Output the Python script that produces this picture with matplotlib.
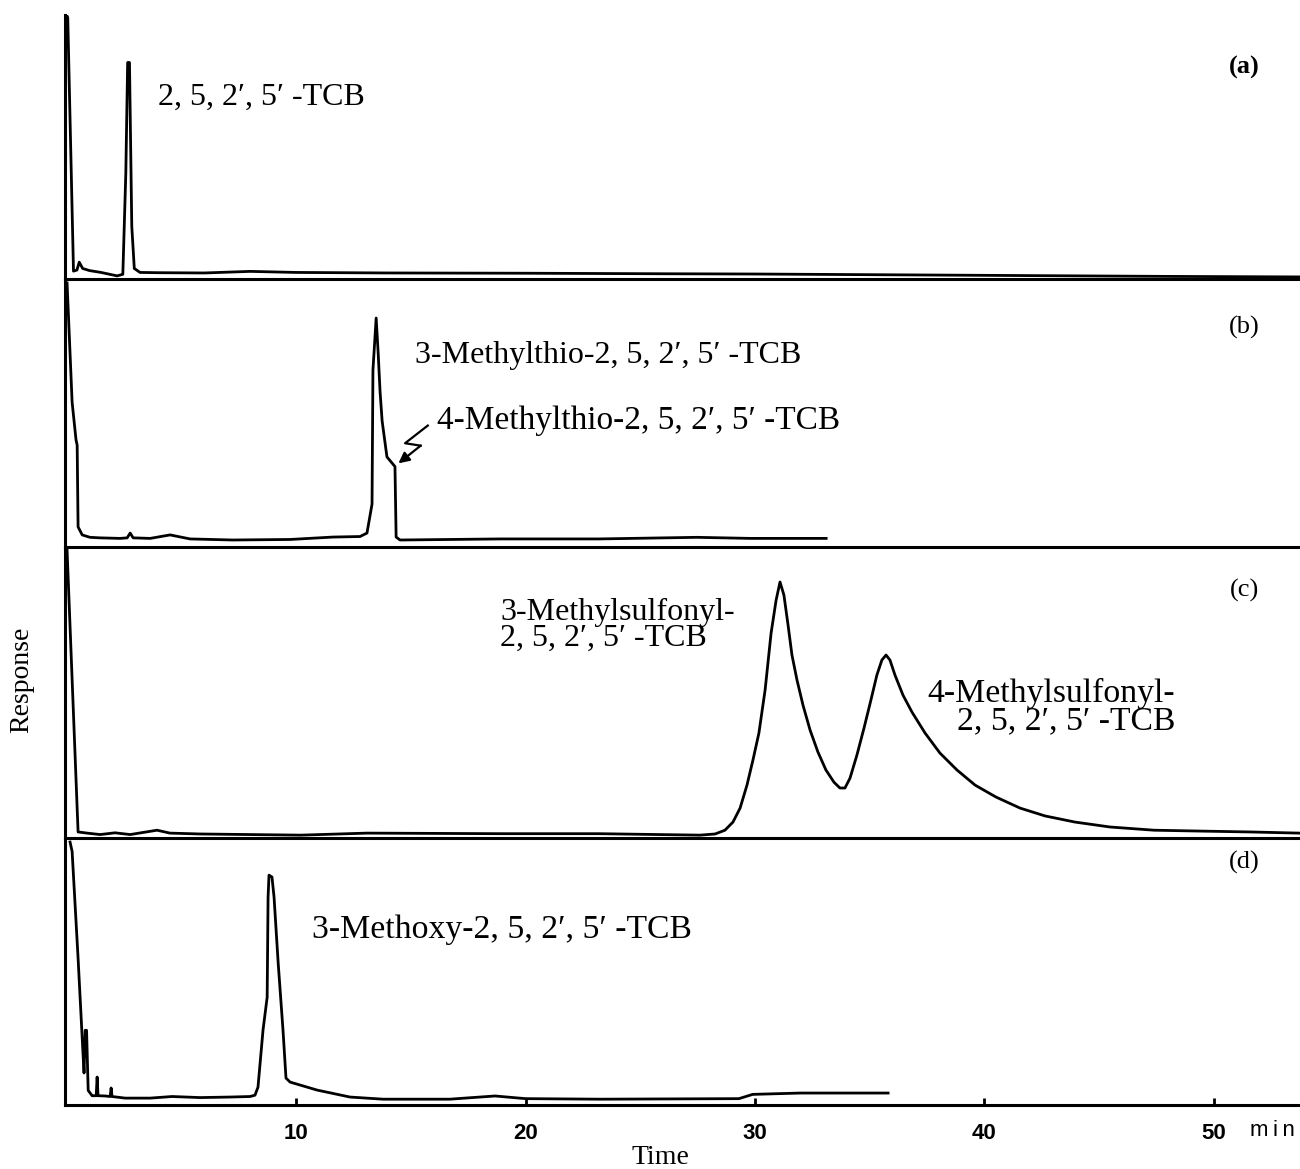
import matplotlib
matplotlib.use("Agg")
import matplotlib.pyplot as plt

# retention time (min) and response (% of panel height)
time_a = [0.0, 0.05, 0.3, 0.45, 0.55, 0.7, 1.0, 1.5, 2.2, 2.45, 2.58, 2.66, 2.74,
          2.84, 2.95, 3.2, 4.0, 6.0, 8.0, 10.0, 14.0, 20.0, 26.0, 30.0, 36.0,
          42.0, 48.0, 53.8]
resp_a = [100, 99, 3.0, 3.4, 6.4, 4.0, 3.2, 2.5, 1.2, 1.8, 40, 82, 82, 20, 4.0,
          2.5, 2.4, 2.3, 2.9, 2.5, 2.3, 2.2, 2.0, 1.9, 1.6, 1.3, 1.0, 0.8]

time_b = [0.02, 0.24, 0.41, 0.46, 0.50, 0.68, 1.02, 1.46, 2.33, 2.64, 2.77, 2.90,
          3.64, 4.51, 5.38, 7.25, 9.74, 11.61, 12.79, 13.09, 13.31, 13.35, 13.49,
          13.58, 13.66, 13.75, 13.96, 14.31, 14.36, 14.53, 18.9, 23.2, 27.47,
          29.8, 33.1]
resp_b = [98.5, 54, 40, 38, 7.5, 4.5, 3.6, 3.4, 3.2, 3.4, 5.2, 3.4, 3.2, 4.5,
          3.0, 2.6, 2.8, 3.7, 3.9, 5.2, 16, 66, 85.4, 72, 58, 47, 33.6, 30, 3.7,
          2.6, 3.0, 3.0, 3.6, 3.2, 3.2]

time_c = [0.02, 0.50, 0.89, 1.46, 2.11, 2.77, 3.94, 4.5, 5.82, 10.2, 13.1, 18.9,
          23.2, 27.60, 28.26, 28.69, 29.04, 29.35, 29.65, 29.91, 30.17, 30.44,
          30.70, 30.92, 31.09, 31.26, 31.44, 31.61, 31.83, 32.09, 32.40, 32.74,
          33.09, 33.44, 33.70, 33.92, 34.14, 34.44, 34.75, 35.05, 35.31, 35.53,
          35.71, 35.88, 36.10, 36.45, 36.84, 37.41, 38.06, 38.80, 39.59, 40.50,
          41.55, 42.64, 43.94, 45.47, 47.38, 49.39, 51.57, 53.7]
resp_c = [99, 2.1, 1.7, 1.2, 1.8, 1.2, 2.7, 1.7, 1.4, 1.0, 1.7, 1.5, 1.5, 1.0,
          1.4, 2.7, 5.5, 10.3, 18.2, 26.8, 36.1, 50.9, 70.4, 81.8, 88.0, 83.5,
          73.2, 62.9, 54.3, 45.7, 37.1, 29.6, 23.4, 19.2, 17.2, 17.2, 20.6, 28.5,
          37.8, 47.4, 56.0, 61.2, 62.9, 61.2, 56.0, 49.1, 43.3, 36.1, 29.2, 23.4,
          18.2, 14.1, 10.3, 7.6, 5.5, 3.8, 2.7, 2.4, 2.1, 1.7]

time_d = [0.15, 0.24, 0.50, 0.68, 0.76, 0.81, 0.87, 0.94, 1.11, 1.29, 1.33, 1.37,
          1.68, 1.90, 1.94, 1.98, 2.55, 3.64, 4.60, 5.82, 7.12, 8.00, 8.21, 8.34,
          8.56, 8.74, 8.78, 8.82, 8.95, 9.04, 9.22, 9.43, 9.56, 9.74, 10.92,
          12.35, 13.79, 16.7, 18.67, 20.0, 23.25, 29.3, 29.9, 32.0, 35.8]
resp_d = [98.5, 95, 55, 25, 12, 28, 28, 5.5, 3.5, 3.5, 10.5, 3.5, 3.4, 3.2, 6.4,
          3.2, 2.6, 2.6, 3.2, 2.8, 3.0, 3.2, 3.7, 6.7, 28.1, 40.4, 77.9, 86.1,
          85.4, 77.9, 53.2, 28.1, 10.1, 8.6, 5.6, 3.0, 2.2, 2.2, 3.4, 2.4, 2.2,
          2.4, 4.0, 4.5, 4.5]

x_ticks = [10, 20, 30, 40, 50]
panel_tags = ["(a)", "(b)", "(c)", "(d)"]
tcb = "2, 5, 2\u2032, 5\u2032 -TCB"

SERIF = "Liberation Serif"
SANS = "Liberation Sans"
LABEL_SIZE = 23

fig = plt.figure(figsize=(13, 11.69), dpi=100)

# panel boxes in figure fraction: (bottom, height)
boxes = [(0.7613, 0.2259), (0.5321, 0.2293), (0.2831, 0.2489), (0.0547, 0.2284)]
traces = [(time_a, resp_a), (time_b, resp_b), (time_c, resp_c), (time_d, resp_d)]
tag_y = [0.80, 0.82, 0.85, 0.91]

axes = []
for i, ((bottom, height), (t, r)) in enumerate(zip(boxes, traces)):
    ax = fig.add_axes([0.05, bottom, 0.95, height])
    ax.patch.set_visible(False)
    ax.plot(t, r, color="black", lw=2.0, solid_joinstyle="round")
    ax.set_xlim(-0.07, 53.75)
    ax.set_ylim(0, 100)
    for side in ["top", "right"]:
        ax.spines[side].set_visible(False)
    for side in ["left", "bottom"]:
        ax.spines[side].set_linewidth(2.2)
    ax.set_yticks([])
    ax.set_xticks([])
    ax.text(0.955, tag_y[i], panel_tags[i], transform=ax.transAxes,
            fontsize=19, family=SERIF, ha="center", va="center",
            fontweight="bold" if i == 0 else "normal")
    axes.append(ax)

ax_a, ax_b, ax_c, ax_d = axes

ax_a.text(3.99, 68.9, tcb, family=SERIF, fontsize=LABEL_SIZE, va="center")

ax_b.text(15.19, 71.6, "3-Methylthio-" + tcb, family=SERIF,
          fontsize=LABEL_SIZE, va="center")
ax_b.text(16.14, 47, "4-Methylthio-" + tcb, family=SERIF,
          fontsize=24, va="center")
# zigzag arrow to the shoulder
ax_b.plot([15.74, 14.75, 15.43], [45.3, 38.7, 37.8], color="black", lw=1.6)
ax_b.annotate("", xy=(14.46, 31.2), xytext=(15.43, 37.8),
              arrowprops=dict(arrowstyle="-|>", color="black", lw=1.6,
                              mutation_scale=16, shrinkA=0, shrinkB=0))

ax_c.text(18.89, 73.2, "3-Methylsulfonyl-\n" + tcb, family=SERIF,
          fontsize=LABEL_SIZE, va="center", ha="left", linespacing=0.87)
ax_c.text(48.3, 45, "4-Methylsulfonyl-\n" + tcb, family=SERIF,
          fontsize=24.3, va="center", ha="right",
          multialignment="right", linespacing=0.86)

ax_d.text(10.7, 65.5, "3-Methoxy-" + tcb, family=SERIF, fontsize=24.3,
          va="center")

ax_d.set_xticks(x_ticks)
ax_d.set_xticklabels([str(v) for v in x_ticks], family=SANS, fontsize=16,
                     fontweight="bold")
ax_d.tick_params(axis="x", direction="in", length=5, width=2, pad=13)
ax_d.text(51.55, -9.6, "m\u2009i\u2009n", family=SANS, fontsize=16,
          va="center", ha="left", clip_on=False)

fig.text(660 / 1300, 1 - 1157 / 1169, "Time", family=SERIF, fontsize=20,
         ha="center", va="center")
fig.text(22 / 1300, 1 - 680 / 1169, "Response", family=SERIF, fontsize=20,
         ha="center", va="center", rotation=90)

fig.savefig("out.png", dpi=100)
